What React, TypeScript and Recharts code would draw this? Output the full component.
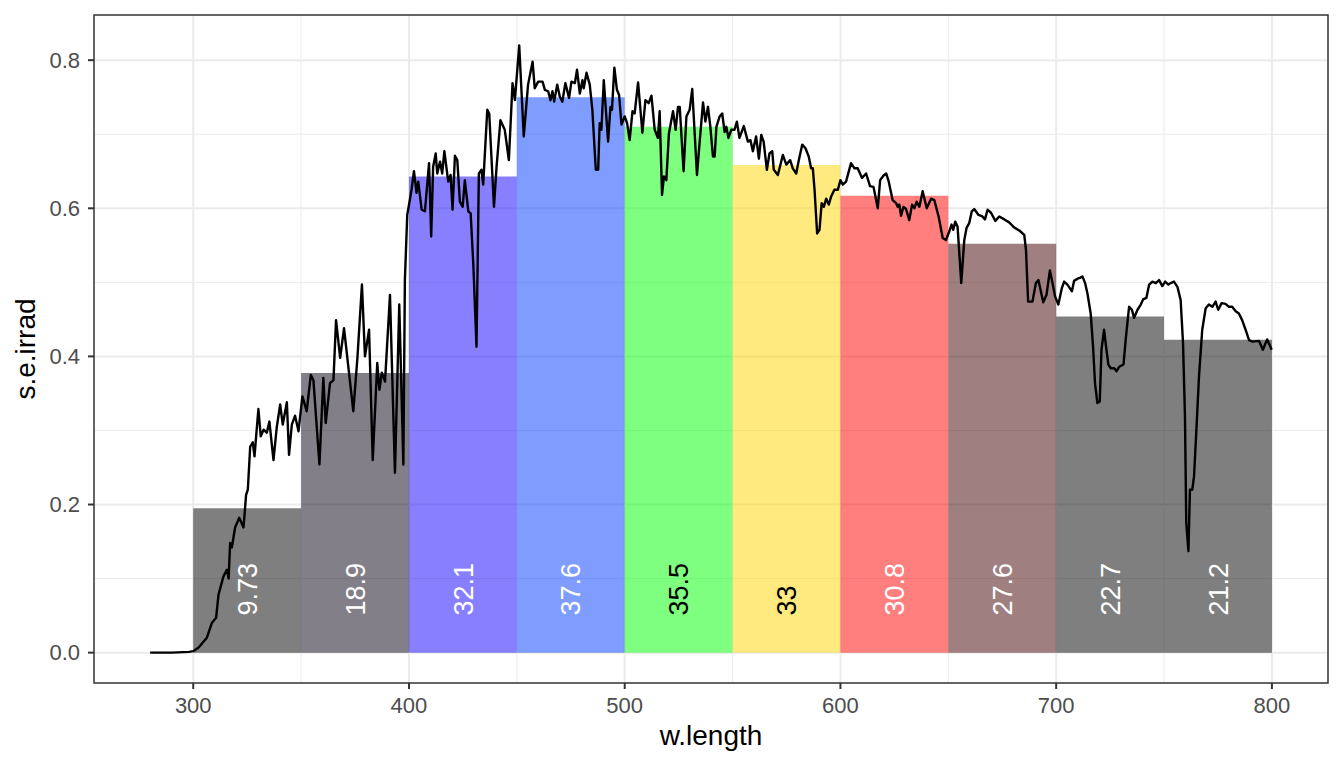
import {
  CartesianGrid,
  ComposedChart,
  Line,
  ReferenceArea,
  XAxis,
  YAxis
} from "recharts";

const FONT = '"Liberation Sans", Arial, Helvetica, sans-serif';

// spectral irradiance: [wavelength, s.e.irrad]
const SPECTRUM: [number, number][] = [
  [280, 0], [290, 0], [298, 0.001], [300, 0.002], [302.5, 0.007], [306.3, 0.02],
  [308.6, 0.04], [310.6, 0.047], [311.7, 0.078], [314, 0.103], [315.6, 0.112],
  [316.4, 0.1], [317.1, 0.148], [317.9, 0.142], [319.4, 0.169], [321.3, 0.182],
  [323.3, 0.169], [324.5, 0.213], [325.3, 0.22], [326.4, 0.278], [327.6, 0.284],
  [328.4, 0.265], [330.2, 0.329], [331.3, 0.292], [332.6, 0.301], [334.1, 0.297],
  [335.3, 0.312], [337.2, 0.26], [338.7, 0.304], [340.3, 0.335], [341.5, 0.308],
  [343.4, 0.338], [344.4, 0.267], [345.7, 0.308], [347.2, 0.32], [348.8, 0.299],
  [350.6, 0.346], [352.6, 0.326], [354.5, 0.375], [355.7, 0.368], [358.5, 0.254],
  [360.3, 0.371], [361.4, 0.31], [363.4, 0.364], [365, 0.368], [366.2, 0.449],
  [368.1, 0.398], [369.9, 0.438], [374.2, 0.326], [376.1, 0.398], [378.2, 0.497],
  [379.6, 0.4], [381.5, 0.436], [383.2, 0.26], [385.3, 0.391], [386.3, 0.355],
  [387.4, 0.378], [388.9, 0.366], [391.2, 0.483], [393.5, 0.243], [395.5, 0.47],
  [397.4, 0.254], [398.1, 0.503], [399.2, 0.591], [401.2, 0.625], [402.3, 0.65],
  [403.5, 0.621], [404.3, 0.636], [405.9, 0.598], [407.4, 0.596], [409.3, 0.661],
  [410.3, 0.562], [411.2, 0.656], [412.4, 0.674], [413.1, 0.647], [414.4, 0.663],
  [415.4, 0.647], [416.4, 0.677], [418.2, 0.636], [419.3, 0.645], [420.2, 0.598],
  [421.3, 0.671], [422.4, 0.665], [423.6, 0.609], [424.9, 0.602], [425.9, 0.638],
  [427.5, 0.596], [428.6, 0.593], [429.8, 0.526], [431.3, 0.413], [432.4, 0.647],
  [433.6, 0.652], [434.4, 0.632], [436.3, 0.733], [437.2, 0.728], [439.4, 0.602],
  [440.6, 0.656], [442.4, 0.719], [444.4, 0.706], [446.3, 0.665], [448, 0.769],
  [449.1, 0.746], [451.1, 0.82], [453.2, 0.697], [455.2, 0.767], [457.3, 0.798],
  [458.3, 0.762], [459.9, 0.771], [461.9, 0.771], [463, 0.76], [464.5, 0.758],
  [465.6, 0.746], [466.5, 0.758], [467.3, 0.744], [468.7, 0.767], [469.9, 0.751],
  [471.1, 0.744], [472.5, 0.769], [474.2, 0.749], [475.3, 0.771], [476.9, 0.769],
  [477.9, 0.787], [479.2, 0.755], [480.4, 0.773], [481, 0.762], [482.3, 0.783],
  [483.8, 0.767], [485, 0.733], [486.6, 0.652], [487.7, 0.652], [488.4, 0.715],
  [489.2, 0.706], [490.3, 0.773], [492.3, 0.69], [493.4, 0.737], [494.1, 0.733],
  [495.2, 0.79], [496.4, 0.76], [497.4, 0.753], [498.5, 0.713], [500, 0.724],
  [501.1, 0.715], [502.3, 0.692], [503.6, 0.731], [504.6, 0.728], [506.2, 0.77],
  [508.2, 0.702], [509.6, 0.746], [511.1, 0.742], [512.4, 0.752], [513.9, 0.706],
  [515.4, 0.695], [516.2, 0.731], [517.3, 0.618], [518.2, 0.643], [519.3, 0.638],
  [520.5, 0.701], [522.4, 0.731], [523.6, 0.706], [524.7, 0.737], [525.5, 0.737],
  [527.3, 0.65], [528.6, 0.724], [530.1, 0.733], [531.3, 0.761], [533.5, 0.645],
  [534.7, 0.688], [536.3, 0.743], [537.4, 0.717], [538.6, 0.737], [539.7, 0.71],
  [540.9, 0.67], [541.7, 0.67], [542.5, 0.71], [544, 0.724], [545.2, 0.728],
  [546.3, 0.703], [547.1, 0.71], [548.1, 0.695], [549.4, 0.706], [550.9, 0.706],
  [552, 0.717], [553.2, 0.695], [555.2, 0.711], [557.1, 0.69], [558.3, 0.692],
  [559.4, 0.677], [560.9, 0.697], [562.2, 0.667], [563.3, 0.699], [564.4, 0.69],
  [565.9, 0.652], [567.1, 0.674], [568.4, 0.677], [569.1, 0.652], [571, 0.645],
  [573.3, 0.672], [574.9, 0.659], [576.7, 0.665], [577.9, 0.654], [579.5, 0.647],
  [580.7, 0.665], [582.3, 0.686], [583.8, 0.681], [585.3, 0.67], [586.4, 0.654],
  [587.2, 0.654], [588, 0.625], [589.2, 0.566], [590.3, 0.571], [591.3, 0.607],
  [592.3, 0.602], [593.4, 0.613], [594.6, 0.605], [595.7, 0.616], [597.2, 0.625],
  [598.8, 0.625], [600, 0.638], [601.1, 0.632], [602.6, 0.636], [604.9, 0.661],
  [606.5, 0.654], [608, 0.654], [610, 0.641], [611.9, 0.647], [613.7, 0.63],
  [615.3, 0.629], [617.3, 0.6], [618.4, 0.638], [619.9, 0.644], [621.2, 0.647],
  [622.4, 0.636], [624.2, 0.611], [625.8, 0.607], [626.5, 0.602], [627.3, 0.605],
  [628.1, 0.59], [629.2, 0.602], [630.4, 0.599], [631.9, 0.584], [633.2, 0.605],
  [634.3, 0.6], [635.3, 0.609], [636.6, 0.602], [638.1, 0.623], [640, 0.6],
  [642, 0.613], [643.5, 0.611], [645.5, 0.589], [647.4, 0.56], [648.9, 0.557],
  [650.5, 0.569], [651.5, 0.578], [652.3, 0.571], [653.2, 0.582], [654.3, 0.575],
  [656, 0.499], [657.4, 0.557], [658.5, 0.574], [659.7, 0.58], [660.9, 0.596],
  [662, 0.599], [664, 0.591], [665.8, 0.589], [667, 0.585], [668.2, 0.598],
  [669.8, 0.594], [671.8, 0.583], [673.6, 0.589], [676, 0.585], [678.2, 0.581],
  [680.6, 0.574], [682.9, 0.57], [685.2, 0.564], [686, 0.544], [687, 0.474],
  [689, 0.474], [690.6, 0.499], [691.8, 0.503], [694, 0.473], [695.5, 0.483],
  [697.1, 0.516], [698.3, 0.499], [699.5, 0.481], [701, 0.47], [702.6, 0.492],
  [703.7, 0.501], [705.2, 0.497], [707.3, 0.488], [708.3, 0.502], [709.9, 0.505],
  [711, 0.506], [712.2, 0.508], [713.4, 0.499], [714.5, 0.485], [716, 0.458],
  [717.1, 0.413], [718, 0.364], [719.1, 0.337], [720.2, 0.339], [721, 0.409],
  [722.2, 0.436], [723.3, 0.409], [724.2, 0.389], [725.3, 0.384], [726.9, 0.384],
  [728, 0.38], [729.2, 0.386], [731.2, 0.389], [732.3, 0.425], [733.8, 0.467],
  [735.1, 0.463], [736.1, 0.452], [737.7, 0.463], [739.2, 0.47], [740.3, 0.477],
  [741.8, 0.479], [743.1, 0.497], [744.6, 0.501], [746.2, 0.499], [747.7, 0.503],
  [749.2, 0.495], [750.5, 0.501], [752, 0.497], [753.1, 0.499], [754.6, 0.501],
  [756.2, 0.494], [757.7, 0.476], [758.8, 0.418], [759.7, 0.319], [760.3, 0.175],
  [761.3, 0.137], [762, 0.22], [763.1, 0.22], [763.9, 0.238], [765, 0.301],
  [766.2, 0.373], [767.7, 0.436], [769.3, 0.465], [770.8, 0.47], [772.4, 0.467],
  [773.9, 0.474], [775.1, 0.463], [776.7, 0.472], [778.5, 0.471], [780.1, 0.467],
  [781.6, 0.467], [783.2, 0.461], [784.7, 0.458], [786.2, 0.449], [787.8, 0.436],
  [789.4, 0.422], [790.9, 0.42], [794, 0.421], [795.8, 0.409], [797.8, 0.423],
  [799.9, 0.409]
];

// wavebands (mean irradiance per band)
const BAND_LO = [300, 350, 400, 450, 500, 550, 600, 650, 700, 750];
const BAND_HI = [350, 400, 450, 500, 550, 600, 650, 700, 750, 800];
const BAND_MEAN = [0.195, 0.3775, 0.643, 0.75, 0.71, 0.6586, 0.617, 0.552, 0.454, 0.4224];
const BAND_TEXT = ["9.73", "18.9", "32.1", "37.6", "35.5", "33", "30.8", "27.6", "22.7", "21.2"];
const BAND_FILL = [
  "#000000", "#050014", "#1100ff", "#003cff", "#00ff00",
  "#ffd600", "#ff0000", "#400000", "#000000", "#000000"
];
const BAND_TEXT_COLOR = [
  "white", "white", "white", "white", "black",
  "black", "white", "white", "white", "white"
];
const LABEL_Y = 0.05;

const X_TICKS = [300, 400, 500, 600, 700, 800];
const X_MINOR = [350, 450, 550, 650, 750];
const Y_TICKS = [0, 0.2, 0.4, 0.6, 0.8];
const Y_MINOR = [0.1, 0.3, 0.5, 0.7];
const X_DOMAIN: [number, number] = [254, 826];
const Y_DOMAIN: [number, number] = [-0.041, 0.861];

const chartData = SPECTRUM.map(([wl, irrad]) => ({ wl, irrad }));

function bandLabel(i: number) {
  return (props: any) => {
    const vb = props.viewBox;
    if (!vb) return null;
    const cx = vb.x + vb.width / 2;
    const cy = vb.y + vb.height * (1 - LABEL_Y / BAND_MEAN[i]);
    return (
      <text
        x={cx}
        y={cy}
        dy="0.36em"
        transform={`rotate(-90, ${cx}, ${cy})`}
        textAnchor="start"
        fill={BAND_TEXT_COLOR[i]}
        fontSize={27}
        fontFamily={FONT}
      >
        {BAND_TEXT[i]}
      </text>
    );
  };
}

const xTitle = (props: any) => {
  const vb = props.viewBox;
  if (!vb) return null;
  return (
    <text x={vb.x + vb.width / 2} y={vb.y + 62} textAnchor="middle" fontSize={28} fontFamily={FONT} fill="#000">
      w.length
    </text>
  );
};

const yTitle = (props: any) => {
  const vb = props.viewBox;
  if (!vb) return null;
  const x = vb.x + 35;
  const y = vb.y + vb.height / 2;
  return (
    <text x={x} y={y} transform={`rotate(-90, ${x}, ${y})`} textAnchor="middle" fontSize={28} fontFamily={FONT} fill="#000">
      s.e.irrad
    </text>
  );
};

export default function App() {
  return (
    <div style={{ position: "absolute", left: 0, top: 0, width: 1344, height: 768, background: "#fff" }}>
      <ComposedChart
        width={1344}
        height={768}
        data={chartData}
        margin={{ top: 15, right: 16, bottom: 0, left: 0 }}
      >
        <CartesianGrid
          stroke="#ebebeb"
          strokeWidth={1}
          horizontalValues={Y_MINOR}
          verticalValues={X_MINOR}
        />
        <CartesianGrid
          stroke="#ebebeb"
          strokeWidth={2}
          horizontalValues={Y_TICKS}
          verticalValues={X_TICKS}
        />
        <XAxis
          dataKey="wl"
          type="number"
          domain={X_DOMAIN}
          ticks={X_TICKS}
          allowDataOverflow
          height={85}
          axisLine={false}
          tickSize={6}
          tickMargin={8}
          tickLine={{ stroke: "#333", strokeWidth: 2 }}
          tick={{ fill: "#4d4d4d", fontSize: 22, fontFamily: FONT }}
          label={xTitle}
        />
        <YAxis
          type="number"
          domain={Y_DOMAIN}
          ticks={Y_TICKS}
          allowDataOverflow
          width={94}
          axisLine={false}
          tickSize={6}
          tickMargin={8}
          tickLine={{ stroke: "#333", strokeWidth: 2 }}
          tick={{ fill: "#4d4d4d", fontSize: 22, fontFamily: FONT }}
          tickFormatter={(v: number) => v.toFixed(1)}
          label={yTitle}
        />
        {BAND_LO.map((lo, i) => (
          <ReferenceArea
            key={lo}
            x1={lo}
            x2={BAND_HI[i]}
            y1={0}
            y2={BAND_MEAN[i]}
            fill={BAND_FILL[i]}
            fillOpacity={0.5}
            stroke="none"
            ifOverflow="visible"
            label={bandLabel(i)}
          />
        ))}
        <Line
          dataKey="irrad"
          type="linear"
          stroke="#000"
          strokeWidth={2.4}
          strokeLinejoin="round"
          dot={false}
          activeDot={false}
          isAnimationActive={false}
        />
        <ReferenceArea
          x1={X_DOMAIN[0]}
          x2={X_DOMAIN[1]}
          y1={Y_DOMAIN[0]}
          y2={Y_DOMAIN[1]}
          fill="none"
          stroke="#333"
          strokeWidth={1.5}
          ifOverflow="visible"
        />
      </ComposedChart>
    </div>
  );
}
